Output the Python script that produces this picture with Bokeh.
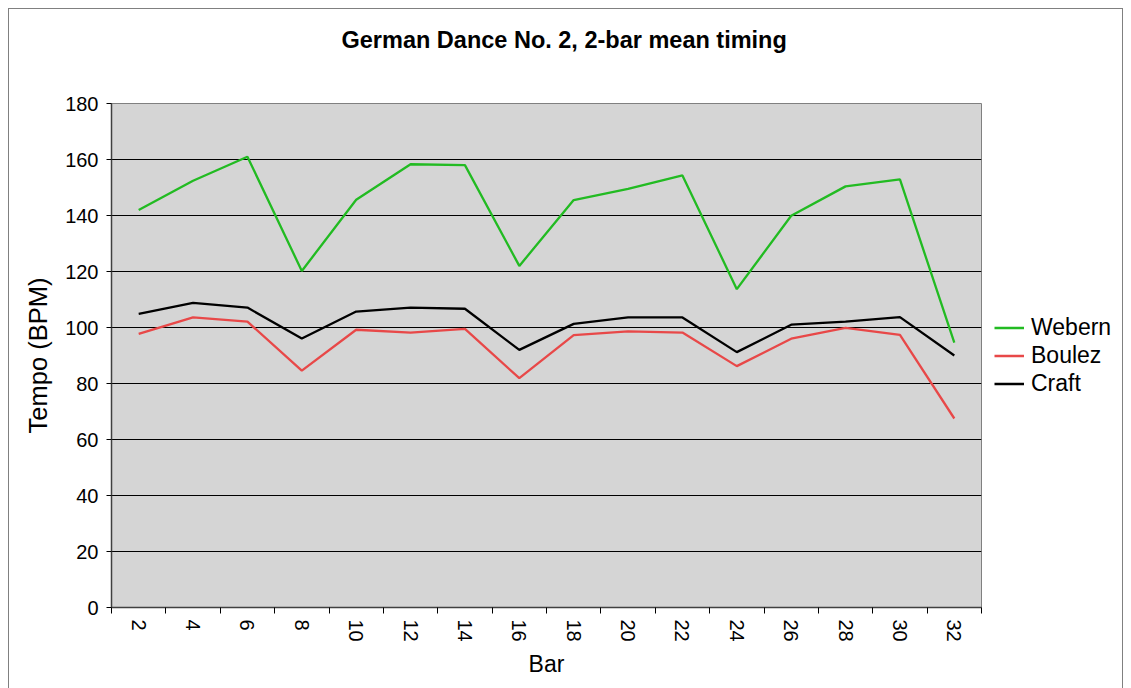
from bokeh.plotting import figure
from bokeh.models import FixedTicker, Legend, LegendItem, Range1d, Title
from bokeh.embed import file_html
from bokeh.resources import INLINE

bars = [2, 4, 6, 8, 10, 12, 14, 16, 18, 20, 22, 24, 26, 28, 30, 32]
webern = [142, 152.4, 161, 120.2, 145.6, 158.3, 158, 122, 145.5, 149.5, 154.3, 113.7, 139.9, 150.4, 152.9, 94.6]
boulez = [97.7, 103.6, 102.1, 84.6, 99.2, 98.2, 99.5, 81.9, 97.3, 98.6, 98.2, 86.2, 96, 99.9, 97.4, 67.5]
craft = [104.9, 108.8, 107.1, 96.1, 105.7, 107.1, 106.7, 92, 101.3, 103.6, 103.6, 91.2, 101, 102.1, 103.7, 90]
y_ticks = [0, 20, 40, 60, 80, 100, 120, 140, 160, 180]

FONT = "Liberation Sans"

p = figure(output_backend="svg", toolbar_location=None,
           x_range=Range1d(1, 33), y_range=Range1d(0, 180),
           frame_width=870, frame_height=504,
           min_border_left=102, min_border_right=143, min_border_top=94, min_border_bottom=82,
           title="German Dance No. 2, 2-bar mean timing")
p.margin = (8, 0, 0, 8)
p.styles = {"border": "1px solid #808080", "box-sizing": "border-box",
            "max-width": "1115px", "overflow": "hidden"}

p.title.align = "left"
p.title.offset = 230
p.title.text_font = FONT
p.title.text_font_size = "23.5px"
p.title.text_font_style = "bold"
p.title.text_color = "black"
p.title.standoff = 0

# empty spacer between the title and the plot area
spacer = Title(text=" ", text_font_size="20px", standoff=27)
p.add_layout(spacer, "above")

p.background_fill_color = "#d5d5d5"
p.border_fill_color = "white"
p.outline_line_color = "#808080"
p.outline_line_width = 1

# x axis: labels at bar centres, ticks at boundaries
p.xaxis.ticker = FixedTicker(ticks=bars, minor_ticks=[b - 1 for b in bars] + [33])
p.xaxis.major_tick_out = 0
p.xaxis.major_tick_in = 0
p.xaxis.minor_tick_out = 6
p.xaxis.minor_tick_in = 0
p.xaxis.minor_tick_line_color = "black"
p.xaxis.major_label_orientation = "vertical"
p.xaxis.axis_label = "Bar"
p.xaxis.axis_label_text_font_style = "normal"
p.xaxis.axis_label_standoff = 6
p.xaxis.major_label_standoff = 6

p.yaxis.ticker = FixedTicker(ticks=y_ticks)
p.yaxis.minor_tick_line_color = None
p.yaxis.major_tick_out = 5
p.yaxis.major_tick_in = 0
p.yaxis.axis_label = "Tempo (BPM)"
p.yaxis.axis_label_text_font_style = "normal"
p.yaxis.axis_label_standoff = 10
p.yaxis.major_label_standoff = 8

for ax in (p.xaxis, p.yaxis):
    ax.axis_line_color = "#404040"
    ax.axis_line_width = 1.5
    ax.major_tick_line_color = "black"
    ax.major_label_text_font = FONT
    ax.major_label_text_font_size = "20px"
    ax.major_label_text_color = "black"
    ax.axis_label_text_font = FONT
    ax.axis_label_text_font_size = "23px"
    ax.axis_label_text_color = "black"
p.yaxis.axis_label_text_font_size = "25.5px"

p.xgrid.grid_line_color = None
p.ygrid.grid_line_color = "black"
p.ygrid.grid_line_width = 1.2

r_w = p.line(bars, webern, line_color="#22bb22", line_width=2.3)
r_b = p.line(bars, boulez, line_color="#e84848", line_width=2.3)
r_c = p.line(bars, craft, line_color="black", line_width=2.3)

legend = Legend(items=[LegendItem(label="Webern", renderers=[r_w]),
                       LegendItem(label="Boulez", renderers=[r_b]),
                       LegendItem(label="Craft", renderers=[r_c])],
                location="center_left", margin=13, padding=0, spacing=1,
                label_text_font=FONT, label_text_font_size="23px", label_text_color="black",
                glyph_width=30, glyph_height=20, label_height=24, label_standoff=7,
                border_line_color=None, background_fill_alpha=0)
p.add_layout(legend, "right")

open("out.html", "w").write(file_html(p, INLINE))
